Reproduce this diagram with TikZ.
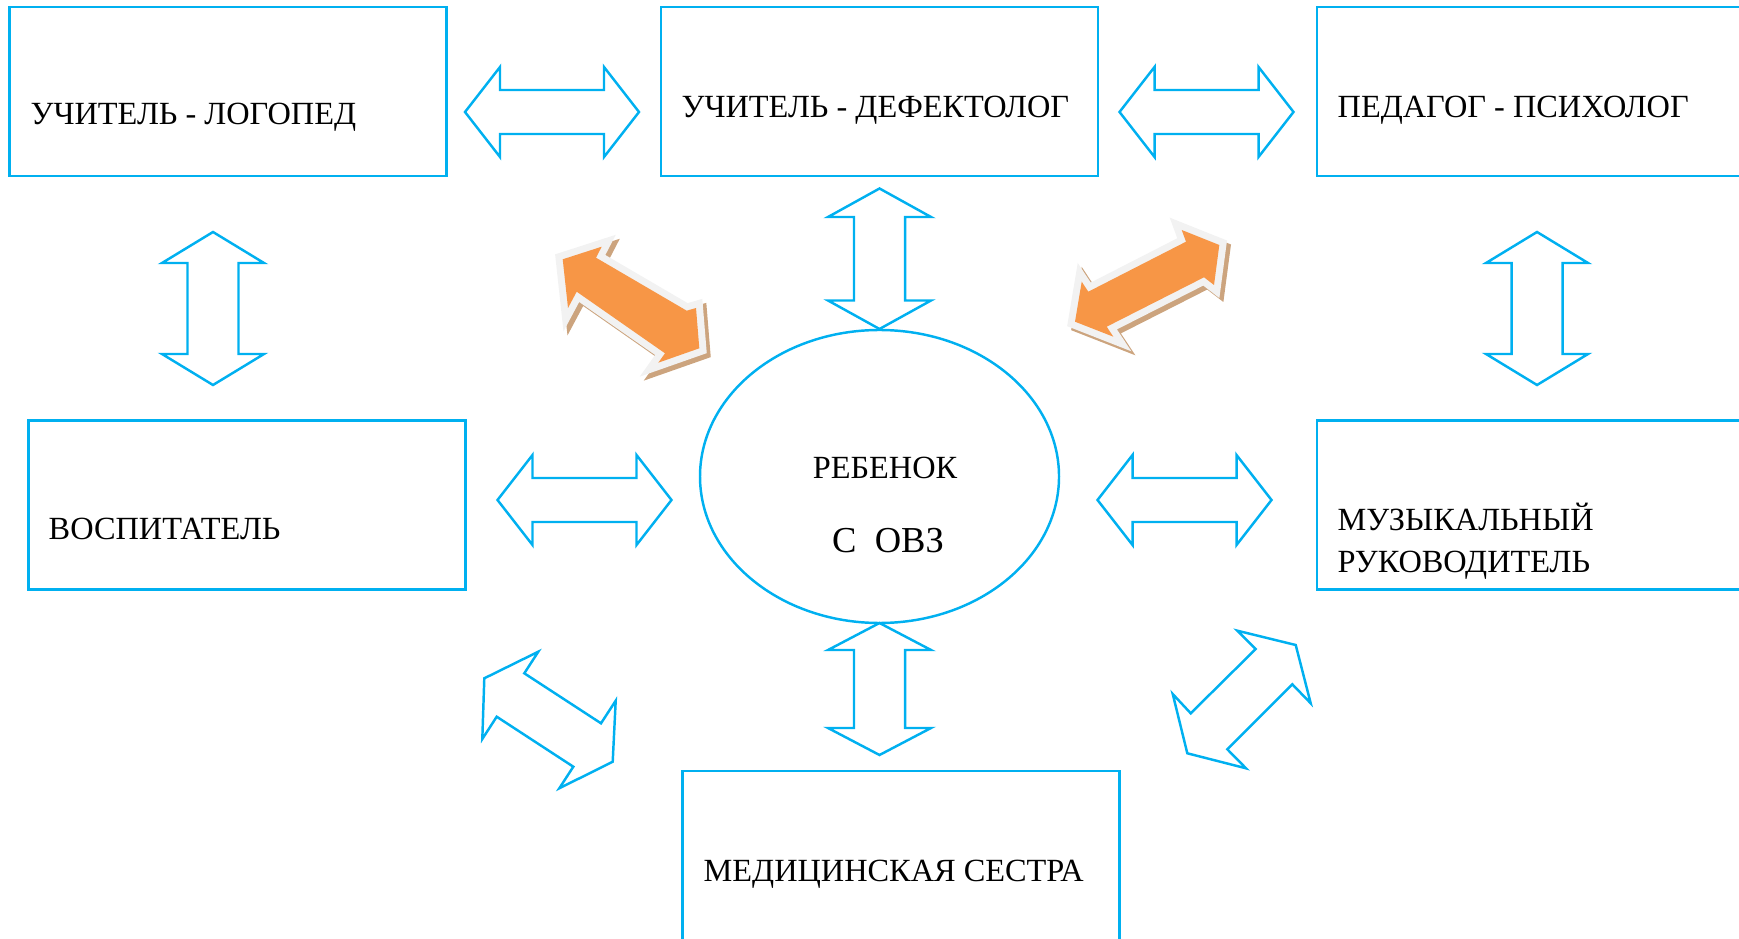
\documentclass[tikz,border=0pt]{standalone}
\usepackage{fontspec}
\setmainfont{Liberation Serif}
\usetikzlibrary{shapes.geometric}

\definecolor{azul}{RGB}{0,176,240}
\definecolor{laranja}{RGB}{247,150,70}
\definecolor{cinza}{RGB}{242,242,242}
\definecolor{sombra}{RGB}{204,164,126}

% seta dupla: centro, angulo, meio comprimento, ponta, meia haste, meia ponta
\newcommand{\setadupla}[6]{%
  \draw[seta, shift={#1}, rotate=#2] (-#3,0) -- (-#3+#4,#6) -- (-#3+#4,#5) -- (#3-#4,#5) -- (#3-#4,#6)
    -- (#3,0) -- (#3-#4,-#6) -- (#3-#4,-#5) -- (-#3+#4,-#5) -- (-#3+#4,-#6) -- cycle;}

\begin{document}
\begin{tikzpicture}[
            caixa/.style={shape=rectangle, draw=azul, line width=0.7pt, minimum width=4.37cm, minimum height=1.69cm, inner sep=0pt},
            elipse/.style={shape=ellipse, draw=azul, line width=0.7pt, minimum width=3.59cm, minimum height=2.93cm, inner sep=0pt},
            texto/.style={inner sep=0pt, anchor=base west, font=\fontsize{9.2}{11}\selectfont},
            seta/.style={draw=azul, line width=0.7pt, line join=miter},
            setalaranja/.style={fill=laranja, line join=miter,
                preaction={fill=sombra, draw=sombra, line width=4pt, transform canvas={shift={(0.04,-0.04)}}},
                preaction={fill=cinza, draw=cinza, line width=4pt}},
        ]
        \useasboundingbox (0,0) rectangle (17.39,9.38);
        \clip (0,0) rectangle (17.39,9.38);

        \node[caixa] (logoped) at (2.28, 8.465) {};
        \node[caixa] (defekt) at (8.795, 8.465) {};
        \node[caixa] (psiholog) at (15.355, 8.465) {};
        \node[caixa] (vospit) at (2.47, 4.33) {};
        \node[caixa] (muzyk) at (15.355, 4.33) {};
        \node[caixa] (medsestra) at (9.01, 0.825) {};
        \node[elipse] (rebenok) at (8.795, 4.615) {};

        \node[texto] (tlogoped) at (0.30, 8.13) {УЧИТЕЛЬ - ЛОГОПЕД};
        \node[texto] (tdefekt) at (6.81, 8.205) {УЧИТЕЛЬ - ДЕФЕКТОЛОГ};
        \node[texto] (tpsiholog) at (13.37, 8.205) {ПЕДАГОГ - ПСИХОЛОГ};
        \node[texto] (tvospit) at (0.48, 3.985) {ВОСПИТАТЕЛЬ};
        \node[texto] (tmuzyk) at (13.37, 4.08) {МУЗЫКАЛЬНЫЙ};
        \node[texto] (truk) at (13.37, 3.66) {РУКОВОДИТЕЛЬ};
        \node[texto] (tmedsestra) at (7.03, 0.57) {МЕДИЦИНСКАЯ СЕСТРА};
        \node[texto, anchor=base] (trebenok) at (8.85, 4.60) {РЕБЕНОК};
        \node[texto, anchor=base, font=\fontsize{10.4}{12}\selectfont] (tovz) at (8.88, 3.86) {С\ \ ОВЗ};

        \setadupla{(5.52,8.26)}{0}{0.87}{0.35}{0.22}{0.45}
        \setadupla{(12.065,8.26)}{0}{0.87}{0.35}{0.22}{0.45}
        \setadupla{(5.845,4.38)}{0}{0.87}{0.35}{0.22}{0.45}
        \setadupla{(11.845,4.38)}{0}{0.87}{0.35}{0.22}{0.45}
        \setadupla{(2.13,6.295)}{90}{0.765}{0.31}{0.255}{0.51}
        \setadupla{(15.37,6.295)}{90}{0.765}{0.31}{0.255}{0.51}
        \setadupla{(8.795,6.7925)}{90}{0.7025}{0.285}{0.255}{0.515}
        \setadupla{(8.795,2.49)}{90}{0.66}{0.27}{0.255}{0.515}

        \draw[seta] (5.383,2.863) -- (5.243,2.647) -- (6.01,2.147) -- (6.157,2.373) -- (6.127,1.763)
            -- (5.593,1.497) -- (5.733,1.713) -- (4.967,2.213) -- (4.823,1.99) -- (4.843,2.597) -- cycle;
        \draw[seta] (12.373,3.073) -- (12.557,2.89) -- (11.907,2.247) -- (11.727,2.44) -- (11.873,1.847)
            -- (12.46,1.697) -- (12.273,1.887) -- (12.923,2.537) -- (13.107,2.347) -- (12.957,2.93) -- cycle;

        \fill[setalaranja] (5.627,6.787) -- (6.017,6.913) -- (5.96,6.803) -- (6.867,6.273) -- (6.96,6.30)
            -- (6.993,5.897) -- (6.583,5.753) -- (6.65,5.847) -- (5.767,6.463) -- (5.68,6.30) -- cycle;
        \fill[setalaranja] (12.193,6.93) -- (11.817,7.08) -- (11.86,6.963) -- (10.883,6.463) -- (10.817,6.563)
            -- (10.75,6.163) -- (11.133,6.013) -- (11.067,6.113) -- (12.04,6.607) -- (12.14,6.53) -- cycle;

    \end{tikzpicture}
\end{document}
